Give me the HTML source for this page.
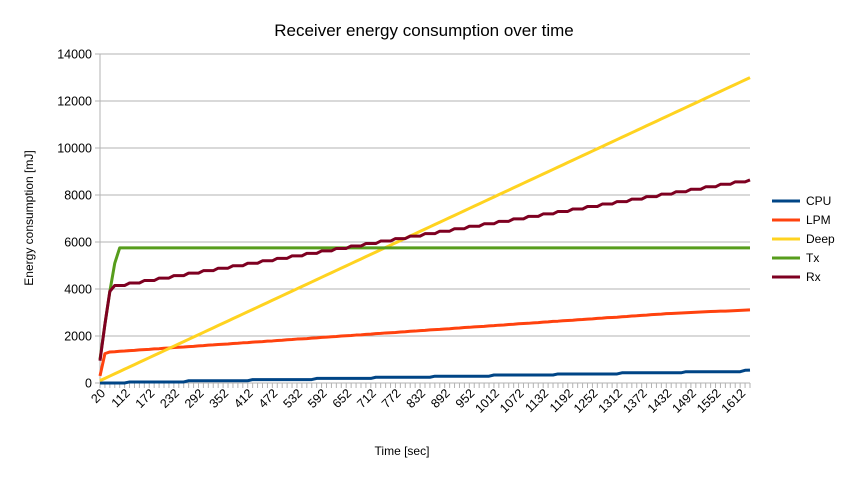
<!DOCTYPE html>
<html><head><meta charset="utf-8"><style>
body{margin:0;background:#fff;}
svg{display:block;font-family:"Liberation Sans",sans-serif;}
</style></head><body>
<svg id="chart" width="848" height="477">
<text x="424" y="36" text-anchor="middle" font-size="17">Receiver energy consumption over time</text>
<text transform="translate(33,218) rotate(-90)" text-anchor="middle" font-size="12">Energy consumption [mJ]</text>
<text x="402" y="455" text-anchor="middle" font-size="12">Time [sec]</text>
<g id="grid"></g><g id="axes"></g><g id="series"></g><g id="legend"></g>
</svg>
<script>
const yTicks=[0,2000,4000,6000,8000,10000,12000,14000];
const categories=[20,64,76,88,100];
for(let t=112;t<=1636;t+=12)categories.push(t);
const seriesNames=["CPU","LPM","Deep","Tx","Rx"];
const seriesColors=["#004586","#ff420e","#ffd320","#579d1c","#7e0021"];
const cpu=[0,0,0,0,0,0,45,45,45,45,45,45,45,45,45,45,45,45,95,95,95,95,95,95,95,95,95,95,95,95,95,145,145,145,145,145,145,145,145,145,145,145,145,145,195,195,195,195,195,195,195,195,195,195,195,195,245,245,245,245,245,245,245,245,245,245,245,245,290,290,290,290,290,290,290,290,290,290,290,290,340,340,340,340,340,340,340,340,340,340,340,340,340,385,385,385,385,385,385,385,385,385,385,385,385,385,435,435,435,435,435,435,435,435,435,435,435,435,435,480,480,480,480,480,480,480,480,480,480,480,480,540,550];
const lpm=[300,1250,1320,1330,1350,1360,1380,1390,1410,1420,1430,1450,1460,1480,1490,1510,1520,1530,1550,1560,1580,1590,1610,1620,1640,1650,1660,1680,1690,1710,1720,1740,1750,1760,1780,1790,1810,1820,1840,1850,1870,1880,1890,1910,1920,1940,1950,1970,1980,2000,2010,2020,2040,2050,2070,2080,2100,2110,2130,2140,2150,2170,2180,2200,2210,2230,2240,2260,2270,2280,2300,2310,2330,2340,2360,2370,2390,2400,2410,2430,2440,2460,2470,2490,2500,2520,2530,2540,2560,2570,2590,2600,2620,2630,2650,2660,2670,2690,2700,2720,2730,2750,2760,2780,2790,2800,2820,2830,2850,2860,2880,2890,2910,2920,2930,2950,2960,2970,2980,2990,3000,3010,3020,3030,3040,3050,3060,3060,3070,3080,3090,3100,3110];
const deep=[100,198,295,393,491,589,686,784,882,979,1077,1175,1272,1370,1468,1566,1663,1761,1859,1956,2054,2152,2249,2347,2445,2543,2640,2738,2836,2933,3031,3129,3226,3324,3422,3520,3617,3715,3813,3910,4008,4106,4203,4301,4399,4497,4594,4692,4790,4887,4985,5083,5180,5278,5376,5474,5571,5669,5767,5864,5962,6060,6157,6255,6353,6451,6548,6646,6744,6841,6939,7037,7134,7232,7330,7428,7525,7623,7721,7818,7916,8014,8111,8209,8307,8405,8502,8600,8698,8795,8893,8991,9088,9186,9284,9382,9479,9577,9675,9772,9870,9968,10065,10163,10261,10359,10456,10554,10652,10749,10847,10945,11042,11140,11238,11336,11433,11531,11629,11726,11824,11922,12019,12117,12215,12313,12410,12508,12606,12703,12801,12899,12996];
const tx=[1000,2500,3900,5100,5750];
while(tx.length<133)tx.push(5750);
const rx=[950,2500,3900,
4150,4150,4150,4255,4255,4255,4360,4360,4360,4465,4465,4465,4570,4570,4570,4675,4675,4675,4780,4780,4780,4885,4885,4885,4990,4990,4990,5095,5095,5095,5200,5200,5200,5305,5305,5305,5410,5410,5410,5515,5515,5515,5620,5620,5620,5725,5725,5725,5830,5830,5830,5935,5935,5935,6040,6040,6040,6145,6145,6145,6250,6250,6250,6355,6355,6355,6460,6460,6460,6565,6565,6565,6670,6670,6670,6775,6775,6775,6880,6880,6880,6985,6985,6985,7090,7090,7090,7195,7195,7195,7300,7300,7300,7405,7405,7405,7510,7510,7510,7615,7615,7615,7720,7720,7720,7825,7825,7825,7930,7930,7930,8035,8035,8035,8140,8140,8140,8245,8245,8245,8350,8350,8350,8455,8455,8455,8560,8560,8560,8640];
const seriesData=[cpu,lpm,deep,tx,rx];

const NS="http://www.w3.org/2000/svg";
const X0=100,X1=750,Y0=383,Y1=54;
function xPos(i){return X0+i*(X1-X0)/(categories.length-1);}
function yPos(v){return Y0-v*(Y0-Y1)/14000;}
function mk(tag,attrs,parent){const e=document.createElementNS(NS,tag);for(const k in attrs)e.setAttribute(k,attrs[k]);parent.appendChild(e);return e;}
const grid=document.getElementById('grid'),axes=document.getElementById('axes'),ser=document.getElementById('series'),leg=document.getElementById('legend');
yTicks.forEach(v=>{
  const l=mk('line',{x1:95,x2:X1,y1:yPos(v),y2:yPos(v),stroke:'#b3b3b3','stroke-width':1},grid);
  
  
  const t=mk('text',{x:92,y:yPos(v)+4.5,'text-anchor':'end','font-size':12.5},axes);
  t.textContent=v;
  
  
});
const ax=mk('line',{x1:X0,x2:X0,y1:Y1,y2:Y0,stroke:'#b3b3b3'},axes);


const xa=mk('line',{x1:X0,x2:X1,y1:Y0,y2:Y0,stroke:'#b3b3b3'},axes);


categories.forEach((c,i)=>{
  const tk=mk('line',{x1:xPos(i),x2:xPos(i),y1:Y0,y2:Y0+5,stroke:'#b3b3b3'},axes);
  
  
  if(i%5===0){
    const t=mk('text',{transform:`translate(${xPos(i)+6},${Y0+11}) rotate(-45)`,'text-anchor':'end','font-size':12.5},axes);
    t.textContent=c;
    
    
  }
});
seriesData.forEach((d,s)=>{
  const pts=d.map((v,i)=>xPos(i).toFixed(2)+','+yPos(v).toFixed(2)).join(' ');
  const p=mk('polyline',{points:pts,fill:'none',stroke:seriesColors[s],'stroke-width':3,'stroke-linejoin':'round'},ser);
  
  
  const ly=201+s*19;
  const g=mk('g',{},leg);
  
  
  mk('line',{x1:772,x2:800,y1:ly,y2:ly,stroke:seriesColors[s],'stroke-width':3},g);
  const t=mk('text',{x:806,y:ly+4,'font-size':12},g);
  t.textContent=seriesNames[s];
});
</script>
</body></html>
